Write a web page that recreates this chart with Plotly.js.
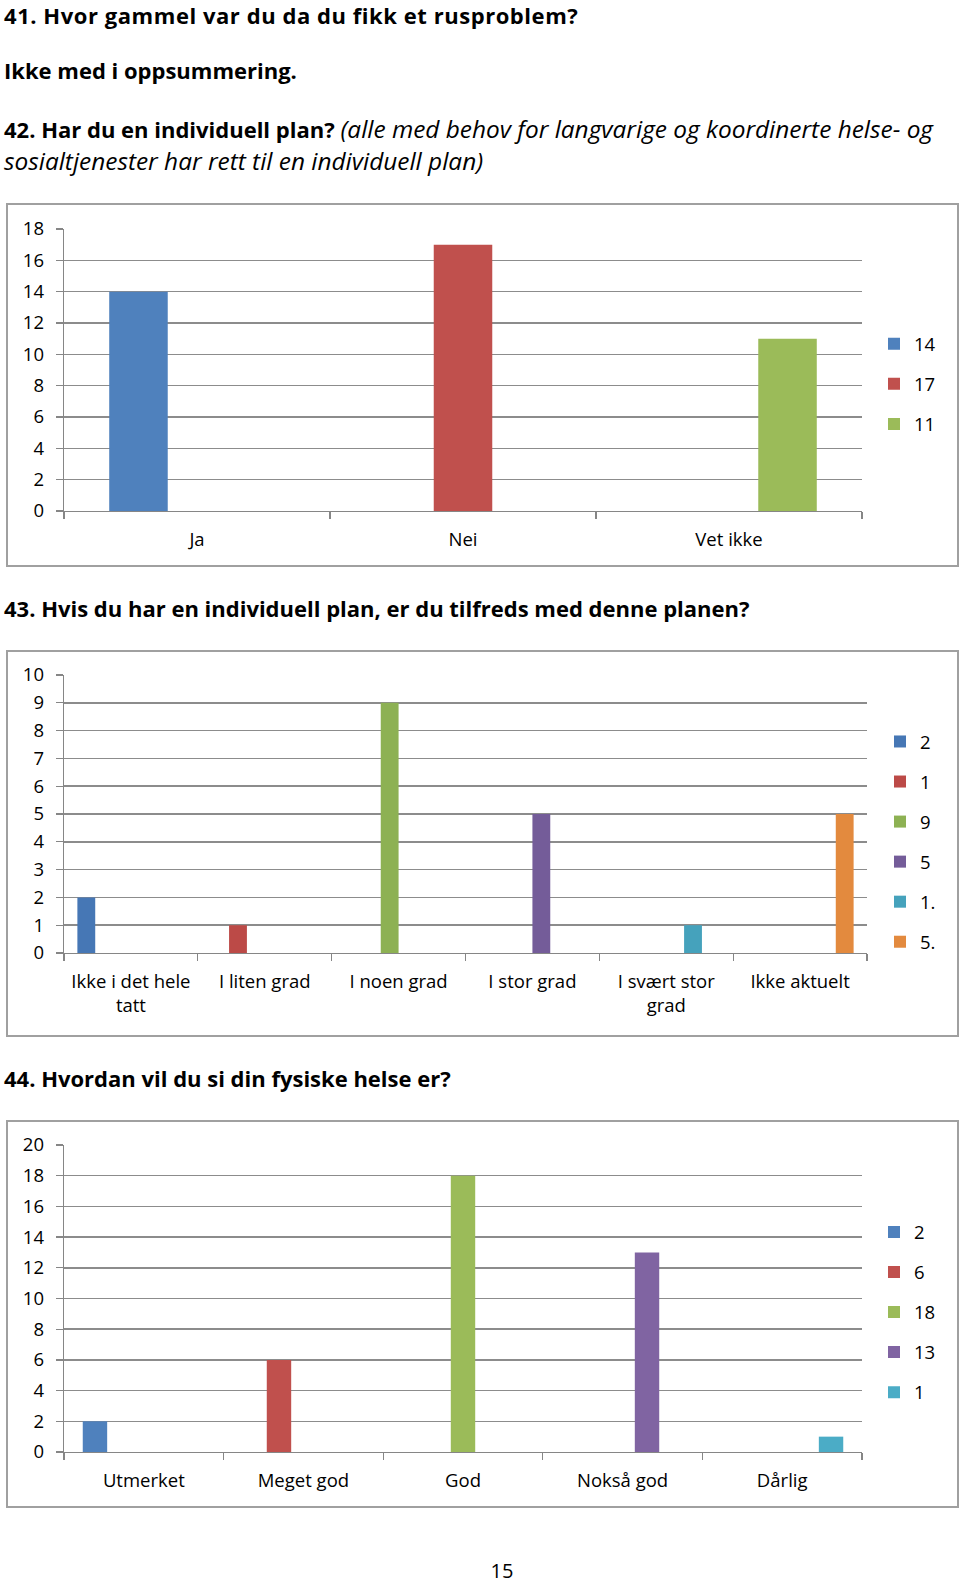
<!DOCTYPE html>
<html><head><meta charset="utf-8">
<script src="https://cdn.plot.ly/plotly-3.0.1.min.js"></script>
<style>
html,body{margin:0;padding:0;background:#fff;}
body{width:960px;height:1582px;position:relative;overflow:hidden;font-family:'Open Sans',sans-serif;color:#000;}
.t{position:absolute;left:4px;white-space:nowrap;font-size:22px;line-height:1;}
.b{font-weight:bold;}
.i{font-style:italic;font-weight:normal;font-size:24.4px;}
.frame{position:absolute;border:2px solid #a0a0a0;box-sizing:border-box;pointer-events:none;}
.chart{position:absolute;}
</style></head><body>
<div class="t b" style="top:4px;letter-spacing:0.55px">41. Hvor gammel var du da du fikk et rusproblem?</div>
<div class="t b" style="top:59px">Ikke med i oppsummering.</div>
<div class="t" style="top:117px"><span class="b">42. Har du en individuell plan?</span> <span class="i">(alle med behov for langvarige og koordinerte helse- og</span></div>
<div class="t i" style="top:149px">sosialtjenester har rett til en individuell plan)</div>
<div id="c1" class="chart" style="left:6px;top:203px;width:953px;height:364px"></div>
<div class="frame" style="left:6px;top:203px;width:953px;height:364px"></div>
<div class="t b" style="top:597px">43. Hvis du har en individuell plan, er du tilfreds med denne planen?</div>
<div id="c2" class="chart" style="left:6px;top:650px;width:953px;height:387px"></div>
<div class="frame" style="left:6px;top:650px;width:953px;height:387px"></div>
<div class="t b" style="top:1067px">44. Hvordan vil du si din fysiske helse er?</div>
<div id="c3" class="chart" style="left:6px;top:1120px;width:953px;height:388px"></div>
<div class="frame" style="left:6px;top:1120px;width:953px;height:388px"></div>
<div class="t" style="left:462px;width:80px;text-align:center;top:1561px;font-size:20px">15</div>
<script>
// ---- data ----
var categories42 = ['Ja', 'Nei', 'Vet ikke'];
var values42 = [14, 17, 11];
var legend42 = ['14', '17', '11'];

var categories43 = ['Ikke i det hele<br>tatt', 'I liten grad', 'I noen grad', 'I stor grad', 'I svært stor<br>grad', 'Ikke aktuelt'];
var values43 = [2, 1, 9, 5, 1, 5];
var legend43 = ['2', '1', '9', '5', '1.', '5.'];

var categories44 = ['Utmerket', 'Meget god', 'God', 'Nokså god', 'Dårlig'];
var values44 = [2, 6, 18, 13, 1];
var legend44 = ['2', '6', '18', '13', '1'];

// ---- styles ----
var palette = ['#4F81BD', '#C0504D', '#9BBB59', '#8064A2', '#4BACC6', '#F79646'];
var palette2 = ['#4677B5', '#BC4A47', '#8DB153', '#745C99', '#45A2BC', '#E38A3E'];
var axisGray = '#868686';

function traces(cats, vals, names, colors) {
  return cats.map(function (c, i) {
    return {
      type: 'bar', x: [c], y: [vals[i]], name: names[i],
      legendgroup: 'g' + i, alignmentgroup: 'a', offsetgroup: 'o' + i,
      marker: {color: colors[i], line: {width: 0}},
      hoverinfo: 'skip'
    };
  });
}

function layout(opts) {
  return {
    width: 953, height: opts.h, autosize: false,
    margin: {l: 58, r: opts.r, t: opts.t, b: opts.b, pad: 0},
    paper_bgcolor: 'rgba(0,0,0,0)', plot_bgcolor: 'rgba(0,0,0,0)',
    barmode: 'group', bargap: opts.gap, bargroupgap: 0,
    font: {family: '"Open Sans", sans-serif', size: 18.5, color: '#000'},
    showlegend: true,
    legend: {
      xref: 'container', yref: 'container', x: opts.lx, xanchor: 'left',
      y: opts.ly, yanchor: 'middle', traceorder: 'grouped', tracegroupgap: 13,
      maxheight: 380,
      font: {size: 18.5, color: '#000'}, bgcolor: 'rgba(0,0,0,0)', borderwidth: 0
    },
    xaxis: {
      type: 'category', categoryorder: 'array', categoryarray: opts.cats,
      range: [-0.5, opts.cats.length - 0.5], fixedrange: true,
      tickson: 'boundaries', ticks: 'outside', ticklen: 7, tickwidth: 1.3, tickcolor: axisGray,
      showline: true, linecolor: axisGray, linewidth: 1.3, showgrid: false, zeroline: false,
      ticklabelstandoff: 11, automargin: false
    },
    yaxis: {
      range: [0, opts.ymax], tick0: 0, dtick: opts.dtick, fixedrange: true,
      ticks: 'outside', ticklen: 7, tickwidth: 1.3, tickcolor: axisGray,
      showline: true, linecolor: axisGray, linewidth: 1.3,
      showgrid: true, gridcolor: '#8c8c8c', gridwidth: 1.5, zeroline: false,
      ticklabelstandoff: 8, automargin: false
    }
  };
}

var cfg = {displayModeBar: false, staticPlot: true};

Plotly.newPlot('c1', traces(categories42, values42, legend42, palette),
  layout({h: 364, t: 25.7, b: 56.3, r: 97, ymax: 18, dtick: 2, gap: 0.34, lx: 868 / 953, ly: 0.502, cats: categories42}), cfg);

Plotly.newPlot('c2', traces(categories43, values43, legend43, palette2),
  layout({h: 387, t: 25, b: 83.7, r: 92, ymax: 10, dtick: 1, gap: 0.2, lx: 874 / 953, ly: 0.504, cats: categories43}), cfg);

Plotly.newPlot('c3', traces(categories44, values44, legend44, palette),
  layout({h: 388, t: 25, b: 55.7, r: 97, ymax: 20, dtick: 2, gap: 0.235, lx: 868 / 953, ly: 0.504, cats: categories44}), cfg);
</script>
</body></html>
